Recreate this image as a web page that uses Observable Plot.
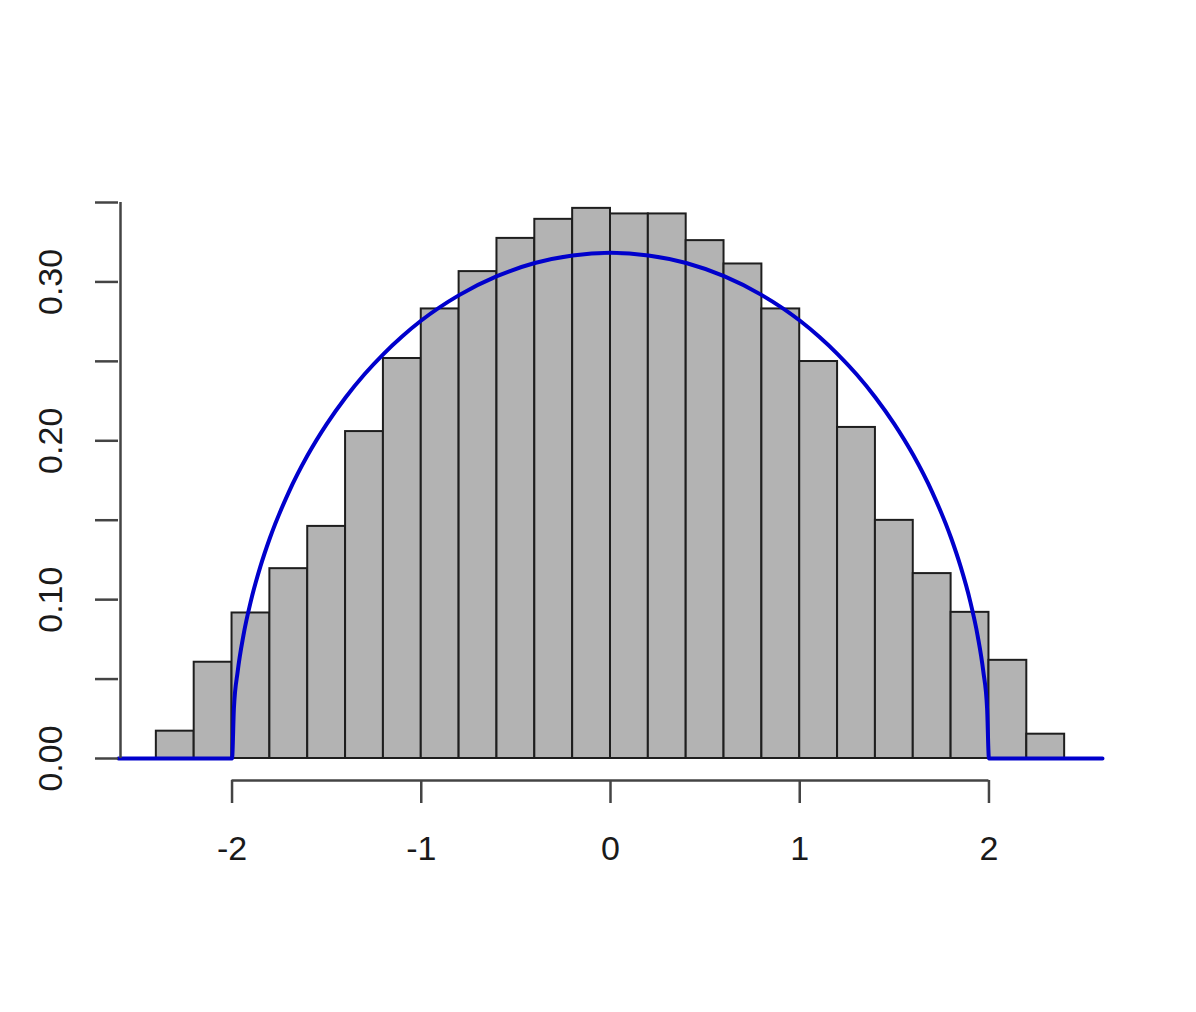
<!DOCTYPE html>
<html>
<head>
<meta charset="utf-8">
<script src="https://cdn.jsdelivr.net/npm/d3@7"></script>
<script src="https://cdn.jsdelivr.net/npm/@observablehq/plot@0.6"></script>
<style>
  html, body { margin: 0; padding: 0; background: #fff; }
  #chart svg { display: block; }
</style>
</head>
<body>
<div id="chart"></div>
<script>
// Histogram bin edges and densities
const binEdges = [-2.4, -2.2, -2.0, -1.8, -1.6, -1.4, -1.2, -1.0, -0.8, -0.6, -0.4, -0.2, 0.0,
                  0.2, 0.4, 0.6, 0.8, 1.0, 1.2, 1.4, 1.6, 1.8, 2.0, 2.2, 2.4];
const density = [0.0172, 0.0606, 0.0916, 0.1195, 0.1461, 0.2058, 0.2518, 0.2830, 0.3065, 0.3274,
                 0.3394, 0.3463, 0.3428, 0.3428, 0.3260, 0.3113, 0.2830, 0.2499, 0.2084, 0.1499,
                 0.1164, 0.0920, 0.0618, 0.0153];

// Density curve sample points
const curveX = [-2.6, -2.0, -1.99, -1.97, -1.94, -1.9, -1.85, -1.8, -1.7, -1.6, -1.5, -1.4, -1.3, -1.2, -1.1,
                -1.0, -0.8, -0.6, -0.4, -0.2, 0.0, 0.2, 0.4, 0.6, 0.8, 1.0,
                1.1, 1.2, 1.3, 1.4, 1.5, 1.6, 1.7, 1.8, 1.85, 1.9, 1.94, 1.97, 1.99, 2.0, 2.6];
const curveY = [0, 0, 0.0318, 0.0549, 0.0774, 0.0994, 0.1209, 0.1388, 0.1677, 0.1910, 0.2105, 0.2273, 0.2419, 0.2546, 0.2658,
                0.2757, 0.2917, 0.3036, 0.3119, 0.3167, 0.3183, 0.3167, 0.3119, 0.3036, 0.2917, 0.2757,
                0.2658, 0.2546, 0.2419, 0.2273, 0.2105, 0.1910, 0.1677, 0.1388, 0.1209, 0.0994, 0.0774, 0.0549, 0.0318, 0, 0];

// Axis ticks and labels
const xTicks = [-2, -1, 0, 1, 2];
const xTickLabels = ["-2", "-1", "0", "1", "2"];
const yTicks = [0, 0.05, 0.10, 0.15, 0.20, 0.25, 0.30, 0.35];
const yLabelValues = [0, 0.10, 0.20, 0.30];
const yLabelTexts = ["0.00", "0.10", "0.20", "0.30"];
const xDomain = [-2.6, 2.6];

const bins = density.map((d, i) => ({x1: binEdges[i], x2: binEdges[i + 1], y: d}));
const curve = curveX.map((x, i) => ({x, y: curveY[i]}));
const yLabels = yLabelValues.map((v, i) => ({y: v, text: yLabelTexts[i]}));

const axisColor = "#444";
const font = "'Liberation Sans', Arial, Helvetica, sans-serif";

const chart = Plot.plot({
  width: 1196,
  height: 1012,
  marginLeft: 118,
  marginRight: 94,
  marginTop: 202,
  marginBottom: 254,
  style: {fontFamily: font, background: "#fff", color: "#1a1a1a"},
  x: {domain: xDomain, axis: null, label: null},
  y: {domain: [yTicks[0], yTicks[yTicks.length - 1]], axis: null, label: null},
  marks: [
    Plot.rectY(bins, {x1: "x1", x2: "x2", y: "y", fill: "#b3b3b3", stroke: "#1e1e1e", strokeWidth: 2}),
    Plot.line(curve, {x: "x", y: "y", stroke: "#0000cc", strokeWidth: 4, curve: "monotone-x"}),
    // y axis
    Plot.ruleX([xDomain[0]], {y1: yTicks[0], y2: yTicks[yTicks.length - 1], stroke: axisColor, strokeWidth: 2.5, dx: 2}),
    Plot.axisY({ticks: yTicks, tickSize: 23, label: null, tickFormat: () => "", stroke: axisColor, strokeWidth: 2.5}),
    Plot.text(yLabels, {x: xDomain[0], y: "y", text: "text", rotate: -90, dx: -67, fontSize: 34,
      textAnchor: "middle", lineAnchor: "middle", fill: "#1a1a1a"}),
    // x axis
    Plot.ruleY([0], {x1: xTicks[0], x2: xTicks[xTicks.length - 1], dy: 22, stroke: axisColor, strokeWidth: 2.5}),
    Plot.axisX({ticks: xTicks, tickSize: 23, dy: 22, tickPadding: 32, fontSize: 34, label: null,
      tickFormat: (d) => xTickLabels[xTicks.indexOf(d)], stroke: axisColor, strokeWidth: 2.5})
  ]
});

document.getElementById("chart").appendChild(chart);
</script>
</body>
</html>
